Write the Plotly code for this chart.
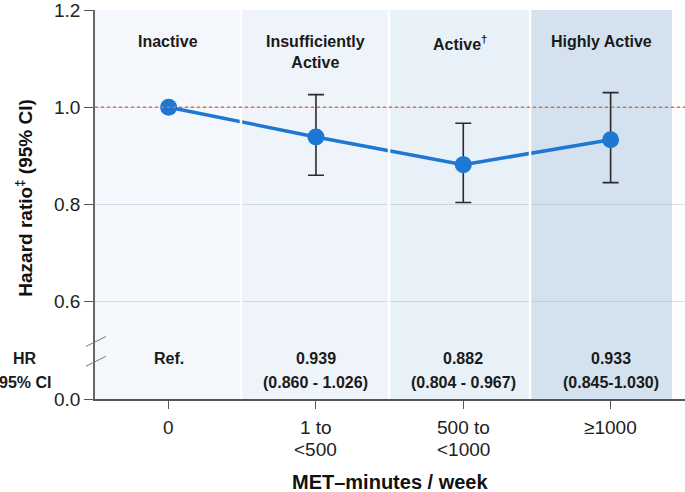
import plotly.graph_objects as go

# ---- data ----
categories = ["0", "1 to\n<500", "500 to\n<1000", "≥1000"]
group_labels = ["Inactive", "Insufficiently<br>Active", "Active<sup>†</sup>", "Highly Active"]
hr = [1.000, 0.939, 0.882, 0.933]
ci_low = [None, 0.860, 0.804, 0.845]
ci_high = [None, 1.026, 0.967, 1.030]
hr_text = ["Ref.", "0.939", "0.882", "0.933"]
ci_text = ["", "(0.860 - 1.026)", "(0.804 - 0.967)", "(0.845-1.030)"]
y_tickvals = [0.4, 0.6, 0.8, 1.0, 1.2]
y_ticktext = ["0.0", "0.6", "0.8", "1.0", "1.2"]
reference_hr = 1.0

# ---- styling ----
band_edges = [-0.5, 0.491, 1.496, 2.453, 3.417]
band_colors = ["#f4f8fc", "#eef4fa", "#e8f0f8", "#d4e2ef"]
blue = "#1f77d4"
sans = "Liberation Sans, Arial, Helvetica"

x_idx = list(range(len(categories)))
err_plus = [0 if h is None else h - v for h, v in zip(ci_high, hr)]
err_minus = [0 if l is None else v - l for l, v in zip(ci_low, hr)]
err_vis = [h is not None for h in ci_high]

fig = go.Figure()

# error bars (only where CI given)
fig.add_trace(go.Scatter(
    x=[x for x, v in zip(x_idx, err_vis) if v],
    y=[y for y, v in zip(hr, err_vis) if v],
    mode="markers",
    marker=dict(size=1, color="rgba(0,0,0,0)"),
    error_y=dict(type="data", symmetric=False,
                 array=[p for p, v in zip(err_plus, err_vis) if v],
                 arrayminus=[m for m, v in zip(err_minus, err_vis) if v],
                 color="#2a2a2a", thickness=1.6, width=8),
    hoverinfo="skip", showlegend=False,
))
fig.add_trace(go.Scatter(
    x=x_idx, y=hr, mode="lines+markers",
    line=dict(color=blue, width=3.5),
    marker=dict(size=17, color=blue),
    showlegend=False,
))

shapes = []
for i, c in enumerate(band_colors):
    shapes.append(dict(type="rect", xref="x", yref="y", x0=band_edges[i], x1=band_edges[i + 1],
                       y0=0.4, y1=1.2, fillcolor=c, line=dict(width=0), layer="below"))
for e in band_edges[1:-1]:
    shapes.append(dict(type="line", xref="x", yref="y", x0=e, x1=e, y0=0.4, y1=1.2,
                       line=dict(color="white", width=2.5), layer="above"))
shapes.append(dict(type="line", xref="paper", yref="y", x0=0, x1=1, y0=reference_hr, y1=reference_hr,
                   line=dict(color="#f26a2c", width=1.3, dash="dot"), layer="above"))
# axis-break slashes
for y0p, y1p in [(0.1352, 0.1607), (0.0842, 0.1097)]:
    shapes.append(dict(type="line", xref="paper", yref="paper", x0=-0.0153, x1=0.0186,
                       y0=y0p, y1=y1p, line=dict(color="#777777", width=1), layer="above"))

bold16 = dict(family=sans, size=16, color="#1a1a1a", weight="bold")
ann = []
for i, lab in enumerate(group_labels):
    ann.append(dict(x=(band_edges[i] + band_edges[i + 1]) / 2, y=1.157, xref="x", yref="y",
                    text=lab, showarrow=False, yanchor="top", xanchor="center", font=bold16))
for i in x_idx:
    ann.append(dict(x=i, y=0.4837, xref="x", yref="y", text=hr_text[i], showarrow=False,
                    xanchor="center", font=bold16))
    if ci_text[i]:
        ann.append(dict(x=i, y=0.4347, xref="x", yref="y", text=ci_text[i], showarrow=False,
                        xanchor="center", font=bold16))
ann.append(dict(x=-0.118, y=0.4837, xref="paper", yref="y", text="HR", showarrow=False,
                xanchor="center", font=bold16))
ann.append(dict(x=-0.118, y=0.4347, xref="paper", yref="y", text="95% CI", showarrow=False,
                xanchor="center", font=bold16))
# category tick labels (tight line spacing)
for i, cat in enumerate(categories):
    for j, line in enumerate(cat.split("\n")):
        ann.append(dict(x=i, y=-0.0727 - j * 0.0574, xref="x", yref="paper", text=line,
                        showarrow=False, yanchor="middle", xanchor="center",
                        font=dict(family=sans, size=19, color="#222222")))
ann.append(dict(x=0.5, y=-0.213, xref="paper", yref="paper", text="MET–minutes / week",
                showarrow=False, yanchor="middle", xanchor="center",
                font=dict(family=sans, size=20, color="#111111", weight="bold")))
ann.append(dict(x=-0.1203, y=0.515, xref="paper", yref="paper",
                text="Hazard ratio<sup>‡</sup> (95% CI)", textangle=-90, showarrow=False,
                xanchor="center", yanchor="middle",
                font=dict(family=sans, size=19, color="#111111", weight="bold")))

fig.update_layout(
    width=685, height=492,
    margin=dict(l=95, r=0, t=7, b=93),
    paper_bgcolor="white", plot_bgcolor="white",
    shapes=shapes, annotations=ann,
    xaxis=dict(range=[-0.5, 3.505], tickvals=x_idx, showticklabels=False,
               showgrid=False, zeroline=False, showline=True, linecolor="#555555", linewidth=1.5,
               ticks="outside", ticklen=8, tickcolor="#555555", tickwidth=1.2),
    yaxis=dict(range=[0.4, 1.2], tickvals=y_tickvals, ticktext=y_ticktext,
               showgrid=True, gridcolor="rgba(140,155,170,0.3)", gridwidth=1.2, zeroline=False,
               showline=True, linecolor="#666666", linewidth=1.5,
               ticks="outside", ticklen=9, tickcolor="#555555", tickwidth=1.2,
               ticklabeloverflow="allow",
               tickfont=dict(family=sans, size=19, color="#222222")),
)

fig.write_html("out.html", config={"displayModeBar": False},
               post_script="document.body.style.margin='0';document.body.style.overflow='hidden';")
